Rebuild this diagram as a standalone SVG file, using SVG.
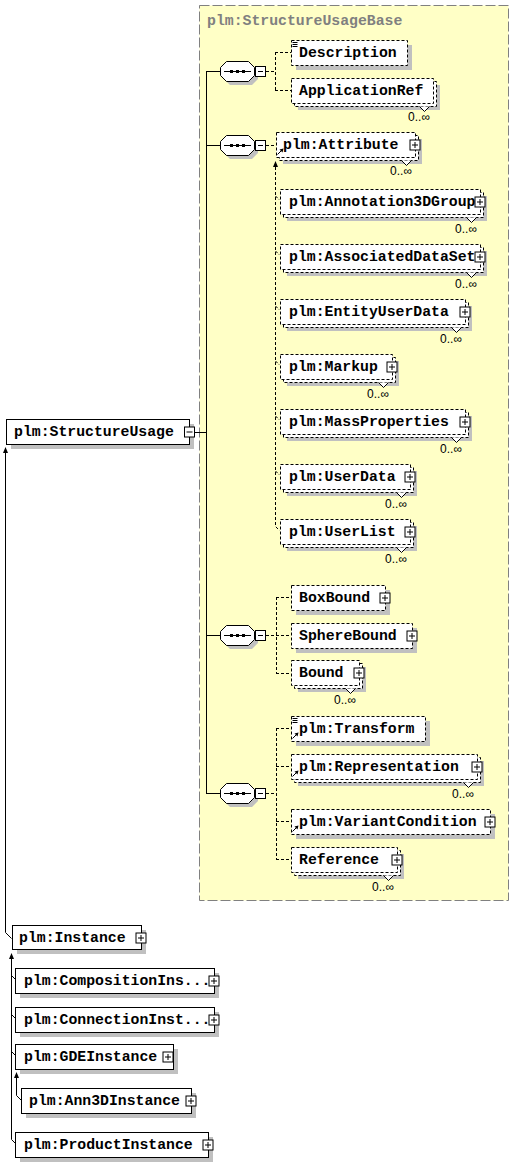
<svg xmlns="http://www.w3.org/2000/svg" width="515" height="1170" viewBox="0 0 515 1170">
<style>
.bg{fill:#fff}
.grp{fill:#ffffc6;stroke:#808080;stroke-width:1;stroke-dasharray:10,3}
.sh{fill:#c0c0c0}
.box{fill:#fff;stroke:#000;stroke-width:1}
.opt{stroke-dasharray:3,2}
.t{font-family:"Liberation Mono","Courier New",monospace;font-weight:bold;font-size:14.8px;fill:#000}
.gt{font-family:"Liberation Mono","Courier New",monospace;font-weight:bold;font-size:14.8px;fill:#808080}
.occ{font-family:"Liberation Sans",Arial,sans-serif;font-size:12px;fill:#000;text-anchor:end}
.con{stroke:#000;stroke-width:1;fill:none}
.dc{stroke:#000;stroke-width:1;fill:none;stroke-dasharray:3,2}
.pm{fill:#fff;stroke:#000;stroke-width:1}
.pl{stroke:#000;stroke-width:1;fill:none}
.v{fill:#fff;stroke:#000;stroke-width:1}
.ar{fill:#000}
</style>
<defs>
<g id="seq">
<polygon class="sh" points="10,4 32,4 38,10 38,18 32,24 10,24 4,18 4,10"/>
<polygon class="box" points="6.5,0.5 28.5,0.5 34.5,6.5 34.5,14.5 28.5,20.5 6.5,20.5 0.5,14.5 0.5,6.5"/>
<line class="pl" x1="4" y1="10.5" x2="31" y2="10.5"/>
<rect x="10" y="9" width="3" height="3" fill="#000"/>
<rect x="16" y="9" width="3" height="3" fill="#000"/>
<rect x="22" y="9" width="3" height="3" fill="#000"/>
<rect class="pm" x="35.5" y="5.5" width="10" height="10"/>
<line class="pl" x1="38" y1="10.5" x2="43" y2="10.5"/>
</g>
<g id="plus">
<rect class="pm" x="-5" y="-5" width="10" height="10"/>
<path class="pl" d="M-3,0H3M0,-3V3"/>
</g>
<g id="minus">
<rect class="pm" x="-5" y="-5" width="10" height="10"/>
<path class="pl" d="M-3,0H3"/>
</g>
<g id="refarrow">
<path class="pl" d="M1.5,22.5L5.5,18.5"/>
<polygon class="ar" points="7.5,16.5 3.5,17.5 6.5,20.5"/>
</g>
<g id="simple">
<path class="pl" d="M1.5,2.5H6.5M1.5,4.5H6.5M1.5,6.5H6.5"/>
</g>
</defs>

<rect class="bg" x="0" y="0" width="515" height="1170"/>

<g id="StructureUsageBase">
<rect class="grp" x="199.5" y="5.5" width="309" height="895"/>
<text class="gt" x="207" y="25">plm:StructureUsageBase</text>
</g>

<g id="connectors">
<path class="con" d="M194,432.5H206.5M206.5,71V793.5M206,71.5H220M206,145.5H220M206,635.5H220M206,793.5H220"/>
<path class="dc" d="M266,71.5H275.5M275.5,52V91M275,52.5H291M275,90.5H291"/>
<path class="dc" d="M266,145.5H276"/>
<path class="dc" d="M275.5,167V526.5L279.5,530.5M275.5,196L279.5,200M275.5,251L279.5,255M275.5,306L279.5,310M275.5,361L279.5,365M275.5,416L279.5,420M275.5,471L279.5,475"/>
<polygon class="ar" points="275.5,161 273,167 278,167"/>
<path class="dc" d="M266,635.5H276.5M276.5,597V674M276,597.5H291M276,635.5H291M276,673.5H291"/>
<path class="dc" d="M266,793.5H276.5M276.5,728V860M276,728.5H291M276,766.5H291M276,821.5H291M276,859.5H291"/>
<path class="con" d="M5.5,453V932.5L11.5,938.5"/>
<polygon class="ar" points="5.5,447 3,453 8,453"/>
<path class="con" d="M11.5,958V1139.5L15.5,1143.5M11.5,975.5L15.5,979.5M11.5,1014.5L15.5,1018.5M11.5,1051.5L15.5,1055.5"/>
<polygon class="ar" points="11.5,953 9,959 14,959"/>
<path class="con" d="M16.5,1078V1095.5L21,1100"/>
<polygon class="ar" points="16.5,1072 14,1078 19,1078"/>
</g>

<g id="seq1"><use href="#seq" x="220" y="61"/></g>
<g id="seq2"><use href="#seq" x="220" y="135"/></g>
<g id="seq3"><use href="#seq" x="220" y="625"/></g>
<g id="seq4"><use href="#seq" x="220" y="783"/></g>

<g id="Description">
<rect class="sh" x="296" y="45" width="116" height="25"/>
<rect class="box opt" x="291.5" y="40.5" width="116" height="25"/>
<use href="#simple" x="291" y="40"/>
<text class="t" x="299" y="57">Description</text>
</g>
<g id="ApplicationRef">
<rect class="sh" x="298" y="85" width="142" height="25"/>
<rect class="box opt" x="294.5" y="81.5" width="142" height="25"/>
<rect class="box opt" x="291.5" y="78.5" width="142" height="25"/>
<polyline class="v" points="419.5,106.5 424.5,111.5 429.5,106.5"/>
<text class="t" x="299" y="95">ApplicationRef</text>
<text class="occ" x="430" y="121">0..∞</text>
</g>

<g id="Attribute">
<rect class="sh" x="283" y="139" width="139" height="25"/>
<rect class="box opt" x="279.5" y="135.5" width="139" height="25"/>
<rect class="box opt" x="276.5" y="132.5" width="139" height="25"/>
<polyline class="v" points="401.5,160.5 406.5,165.5 411.5,160.5"/>
<use href="#refarrow" x="276" y="132"/>
<text class="t" x="283" y="149">plm:Attribute</text>
<use href="#plus" x="415" y="145"/>
<text class="occ" x="412" y="175">0..∞</text>
</g>
<g id="Annotation3DGroup">
<rect class="sh" x="287" y="196" width="200" height="25"/>
<rect class="box opt" x="283.5" y="192.5" width="200" height="25"/>
<rect class="box opt" x="280.5" y="189.5" width="200" height="25"/>
<polyline class="v" points="466.5,217.5 471.5,222.5 476.5,217.5"/>
<text class="t" x="289" y="206">plm:Annotation3DGroup</text>
<use href="#plus" x="480" y="202"/>
<text class="occ" x="477" y="233">0..∞</text>
</g>
<g id="AssociatedDataSet">
<rect class="sh" x="287" y="251" width="200" height="25"/>
<rect class="box opt" x="283.5" y="247.5" width="200" height="25"/>
<rect class="box opt" x="280.5" y="244.5" width="200" height="25"/>
<polyline class="v" points="466.5,272.5 471.5,277.5 476.5,272.5"/>
<text class="t" x="289" y="261">plm:AssociatedDataSet</text>
<use href="#plus" x="480" y="257"/>
<text class="occ" x="477" y="288">0..∞</text>
</g>
<g id="EntityUserData">
<rect class="sh" x="287" y="306" width="185" height="25"/>
<rect class="box opt" x="283.5" y="302.5" width="185" height="25"/>
<rect class="box opt" x="280.5" y="299.5" width="185" height="25"/>
<polyline class="v" points="451.5,327.5 456.5,332.5 461.5,327.5"/>
<text class="t" x="289" y="316">plm:EntityUserData</text>
<use href="#plus" x="465" y="312"/>
<text class="occ" x="462" y="343">0..∞</text>
</g>
<g id="Markup">
<rect class="sh" x="287" y="361" width="112" height="25"/>
<rect class="box opt" x="283.5" y="357.5" width="112" height="25"/>
<rect class="box opt" x="280.5" y="354.5" width="112" height="25"/>
<polyline class="v" points="378.5,382.5 383.5,387.5 388.5,382.5"/>
<text class="t" x="289" y="371">plm:Markup</text>
<use href="#plus" x="392" y="367"/>
<text class="occ" x="389" y="398">0..∞</text>
</g>
<g id="MassProperties">
<rect class="sh" x="287" y="416" width="185" height="25"/>
<rect class="box opt" x="283.5" y="412.5" width="185" height="25"/>
<rect class="box opt" x="280.5" y="409.5" width="185" height="25"/>
<polyline class="v" points="451.5,437.5 456.5,442.5 461.5,437.5"/>
<text class="t" x="289" y="426">plm:MassProperties</text>
<use href="#plus" x="465" y="422"/>
<text class="occ" x="462" y="453">0..∞</text>
</g>
<g id="UserData">
<rect class="sh" x="287" y="471" width="130" height="25"/>
<rect class="box opt" x="283.5" y="467.5" width="130" height="25"/>
<rect class="box opt" x="280.5" y="464.5" width="130" height="25"/>
<polyline class="v" points="396.5,492.5 401.5,497.5 406.5,492.5"/>
<text class="t" x="289" y="481">plm:UserData</text>
<use href="#plus" x="410" y="477"/>
<text class="occ" x="407" y="508">0..∞</text>
</g>
<g id="UserList">
<rect class="sh" x="287" y="526" width="130" height="25"/>
<rect class="box opt" x="283.5" y="522.5" width="130" height="25"/>
<rect class="box opt" x="280.5" y="519.5" width="130" height="25"/>
<polyline class="v" points="396.5,547.5 401.5,552.5 406.5,547.5"/>
<text class="t" x="289" y="536">plm:UserList</text>
<use href="#plus" x="410" y="532"/>
<text class="occ" x="407" y="563">0..∞</text>
</g>

<g id="BoxBound">
<rect class="sh" x="296" y="590" width="94" height="25"/>
<rect class="box opt" x="291.5" y="585.5" width="94" height="25"/>
<text class="t" x="299" y="602">BoxBound</text>
<use href="#plus" x="385" y="598"/>
</g>
<g id="SphereBound">
<rect class="sh" x="296" y="628" width="121" height="25"/>
<rect class="box opt" x="291.5" y="623.5" width="121" height="25"/>
<text class="t" x="299" y="640">SphereBound</text>
<use href="#plus" x="412" y="636"/>
</g>
<g id="Bound">
<rect class="sh" x="298" y="667" width="68" height="25"/>
<rect class="box opt" x="294.5" y="663.5" width="68" height="25"/>
<rect class="box opt" x="291.5" y="660.5" width="68" height="25"/>
<polyline class="v" points="345.5,688.5 350.5,693.5 355.5,688.5"/>
<text class="t" x="299" y="677">Bound</text>
<use href="#plus" x="359" y="673"/>
<text class="occ" x="356" y="704">0..∞</text>
</g>

<g id="Transform">
<rect class="sh" x="296" y="721" width="134" height="25"/>
<rect class="box opt" x="291.5" y="716.5" width="134" height="25"/>
<use href="#simple" x="291" y="716"/>
<use href="#refarrow" x="291" y="716"/>
<text class="t" x="299" y="733">plm:Transform</text>
</g>
<g id="Representation">
<rect class="sh" x="298" y="761" width="186" height="25"/>
<rect class="box opt" x="294.5" y="757.5" width="186" height="25"/>
<rect class="box opt" x="291.5" y="754.5" width="186" height="25"/>
<polyline class="v" points="463.5,782.5 468.5,787.5 473.5,782.5"/>
<use href="#refarrow" x="291" y="754"/>
<text class="t" x="299" y="771">plm:Representation</text>
<use href="#plus" x="477" y="767"/>
<text class="occ" x="474" y="798">0..∞</text>
</g>
<g id="VariantCondition">
<rect class="sh" x="296" y="814" width="199" height="25"/>
<rect class="box opt" x="291.5" y="809.5" width="199" height="25"/>
<use href="#refarrow" x="291" y="809"/>
<text class="t" x="299" y="826">plm:VariantCondition</text>
<use href="#plus" x="490" y="822"/>
</g>
<g id="Reference">
<rect class="sh" x="298" y="854" width="106" height="25"/>
<rect class="box opt" x="294.5" y="850.5" width="106" height="25"/>
<rect class="box opt" x="291.5" y="847.5" width="106" height="25"/>
<polyline class="v" points="383.5,875.5 388.5,880.5 393.5,875.5"/>
<text class="t" x="299" y="864">Reference</text>
<use href="#plus" x="397" y="860"/>
<text class="occ" x="394" y="891">0..∞</text>
</g>

<g id="StructureUsage">
<rect class="sh" x="11" y="424" width="183" height="25"/>
<rect class="box" x="6.5" y="419.5" width="183" height="25"/>
<text class="t" x="14" y="436">plm:StructureUsage</text>
<use href="#minus" x="189.5" y="432"/>
</g>
<g id="Instance">
<rect class="sh" x="17" y="930" width="129" height="24"/>
<rect class="box" x="12.5" y="925.5" width="129" height="24"/>
<text class="t" x="19" y="942">plm:Instance</text>
<use href="#plus" x="141" y="938"/>
</g>
<g id="CompositionInstance">
<rect class="sh" x="20" y="973" width="199" height="25"/>
<rect class="box" x="15.5" y="968.5" width="199" height="25"/>
<text class="t" x="24" y="985">plm:CompositionIns...</text>
<use href="#plus" x="214" y="981"/>
</g>
<g id="ConnectionInstance">
<rect class="sh" x="20" y="1012" width="199" height="25"/>
<rect class="box" x="15.5" y="1007.5" width="199" height="25"/>
<text class="t" x="24" y="1024">plm:ConnectionInst...</text>
<use href="#plus" x="214" y="1020"/>
</g>
<g id="GDEInstance">
<rect class="sh" x="20" y="1049" width="158" height="25"/>
<rect class="box" x="15.5" y="1044.5" width="158" height="25"/>
<text class="t" x="24" y="1061">plm:GDEInstance</text>
<use href="#plus" x="168" y="1057"/>
</g>
<g id="Ann3DInstance">
<rect class="sh" x="26" y="1093" width="170" height="25"/>
<rect class="box" x="21.5" y="1088.5" width="170" height="25"/>
<text class="t" x="29" y="1105">plm:Ann3DInstance</text>
<use href="#plus" x="191" y="1101"/>
</g>
<g id="ProductInstance">
<rect class="sh" x="20" y="1137" width="193" height="25"/>
<rect class="box" x="15.5" y="1132.5" width="193" height="25"/>
<text class="t" x="24" y="1149">plm:ProductInstance</text>
<use href="#plus" x="208" y="1145"/>
</g>
</svg>
